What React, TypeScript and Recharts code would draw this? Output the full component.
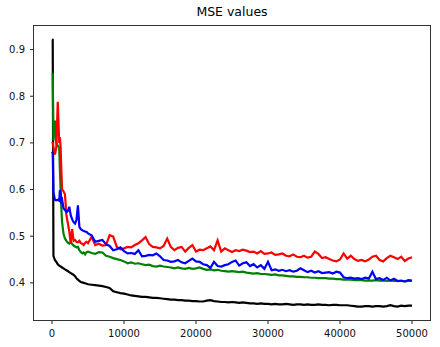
import { LineChart, Line, XAxis, YAxis } from 'recharts';

// training steps where the MSE was logged (dense at the start, then every 500)
const steps = [
  0, 100, 200, 400, 600, 800, 1000, 1100, 1200, 1300, 1400, 1600, 1800, 2000, 2200, 2400, 2600, 2800,
  3000, 3200, 3400, 3600, 3800, 4000, 4200, 4400, 4600, 4800, 5000,
  5500, 6000, 6500, 7000, 7500, 8000, 8500, 9000, 9500, 10000,
  10500, 11000, 11500, 12000, 12500, 13000, 13500, 14000, 14500, 15000,
  15500, 16000, 16500, 17000, 17500, 18000, 18500, 19000, 19500, 20000,
  20500, 21000, 21500, 22000, 22500, 23000, 23500, 24000, 24500, 25000,
  25500, 26000, 26500, 27000, 27500, 28000, 28500, 29000, 29500, 30000,
  30500, 31000, 31500, 32000, 32500, 33000, 33500, 34000, 34500, 35000,
  35500, 36000, 36500, 37000, 37500, 38000, 38500, 39000, 39500, 40000,
  40500, 41000, 41500, 42000, 42500, 43000, 43500, 44000, 44500, 45000,
  45500, 46000, 46500, 47000, 47500, 48000, 48500, 49000, 49500, 50000,
];

const blackMse = [
  0.922, 0.921, 0.458, 0.449, 0.445, 0.44, 0.437, 0.436, 0.435, 0.434, 0.433, 0.431, 0.429, 0.427, 0.425, 0.423, 0.421, 0.419,
  0.417, 0.414, 0.41, 0.407, 0.404, 0.402, 0.401, 0.4, 0.399, 0.398, 0.397,
  0.396, 0.395, 0.394, 0.393, 0.391, 0.389, 0.382, 0.38, 0.378, 0.377,
  0.375, 0.373, 0.372, 0.371, 0.37, 0.37, 0.369, 0.368, 0.368, 0.367,
  0.366, 0.365, 0.364, 0.364, 0.363, 0.363, 0.362, 0.362, 0.361, 0.361,
  0.36, 0.36, 0.362, 0.363, 0.361, 0.36, 0.359, 0.359, 0.358, 0.359,
  0.358, 0.357, 0.358, 0.357, 0.356, 0.356, 0.355, 0.356, 0.355, 0.355,
  0.354, 0.355, 0.354, 0.354, 0.355, 0.354, 0.353, 0.354, 0.354, 0.353,
  0.354, 0.353, 0.353, 0.354, 0.353, 0.353, 0.352, 0.353, 0.353, 0.352,
  0.352, 0.352, 0.351, 0.35, 0.349, 0.349, 0.35, 0.35, 0.349, 0.35,
  0.35, 0.349, 0.35, 0.352, 0.35, 0.349, 0.351, 0.35, 0.351, 0.351,
];

const greenMse = [
  0.85, 0.848, 0.705, 0.748, 0.7, 0.694, 0.69, 0.64, 0.6, 0.56, 0.53, 0.505, 0.495, 0.49, 0.486, 0.484, 0.487, 0.483,
  0.48, 0.478, 0.476, 0.477, 0.47, 0.466, 0.463, 0.465, 0.461, 0.466, 0.467,
  0.464, 0.462, 0.466, 0.465, 0.458, 0.456, 0.453, 0.451, 0.449, 0.446,
  0.442, 0.444, 0.441, 0.442, 0.44, 0.438, 0.439, 0.436, 0.435, 0.437,
  0.435, 0.434, 0.433, 0.431, 0.433, 0.431, 0.43, 0.432, 0.43, 0.431,
  0.433, 0.43, 0.428, 0.429, 0.427, 0.428, 0.426, 0.425, 0.424, 0.425,
  0.424, 0.423, 0.424, 0.422, 0.421, 0.42, 0.421, 0.419, 0.419, 0.418,
  0.417, 0.418, 0.416, 0.416, 0.415, 0.414, 0.414, 0.413, 0.413, 0.412,
  0.412, 0.411, 0.411, 0.41, 0.41, 0.41, 0.409, 0.409, 0.408, 0.408,
  0.407, 0.407, 0.407, 0.406, 0.406, 0.406, 0.405, 0.405, 0.405, 0.406,
  0.405, 0.405, 0.404, 0.405, 0.404, 0.404, 0.404, 0.403, 0.404, 0.404,
];

const redMse = [
  0.702, 0.7, 0.69, 0.675, 0.69, 0.788, 0.7, 0.712, 0.69, 0.64, 0.6, 0.596, 0.59, 0.545, 0.528, 0.51, 0.485, 0.515,
  0.49, 0.492, 0.488, 0.487, 0.49, 0.485, 0.484, 0.481, 0.486, 0.488, 0.485,
  0.499, 0.481, 0.484, 0.48, 0.481, 0.502, 0.499, 0.477, 0.472, 0.474,
  0.477, 0.476, 0.481, 0.485, 0.491, 0.498, 0.483, 0.477, 0.476, 0.474,
  0.479, 0.495, 0.477, 0.47, 0.475, 0.477, 0.467, 0.475, 0.481, 0.467,
  0.471, 0.47, 0.474, 0.478, 0.47, 0.491, 0.467, 0.474, 0.47, 0.466,
  0.47, 0.468, 0.471, 0.469, 0.466, 0.467, 0.463, 0.468, 0.462, 0.463,
  0.465, 0.46, 0.461, 0.463, 0.458, 0.457, 0.461, 0.456, 0.455, 0.458,
  0.454, 0.456, 0.467, 0.462, 0.453, 0.455, 0.451, 0.448, 0.446, 0.45,
  0.463, 0.452, 0.458, 0.451, 0.447, 0.449, 0.446, 0.45, 0.456, 0.458,
  0.449, 0.446, 0.453, 0.458, 0.455, 0.451, 0.456, 0.447, 0.452, 0.455,
];

const blueMse = [
  0.681, 0.678, 0.595, 0.578, 0.577, 0.578, 0.576, 0.599, 0.59, 0.575, 0.578, 0.56, 0.556, 0.552, 0.554, 0.563, 0.545, 0.536,
  0.53, 0.527, 0.535, 0.566, 0.52, 0.515, 0.513, 0.511, 0.51, 0.509, 0.506,
  0.502, 0.488, 0.49, 0.492, 0.483, 0.479, 0.47, 0.472, 0.476, 0.468,
  0.463, 0.464, 0.462, 0.47, 0.457, 0.458, 0.46, 0.459, 0.463, 0.457,
  0.449, 0.448, 0.445, 0.446, 0.449, 0.444, 0.442, 0.447, 0.452, 0.446,
  0.445, 0.44, 0.438, 0.432, 0.445, 0.436, 0.435, 0.438, 0.44, 0.445,
  0.448, 0.437, 0.442, 0.444, 0.436, 0.44, 0.433, 0.438, 0.43, 0.445,
  0.427, 0.429, 0.426, 0.428, 0.425, 0.427, 0.424, 0.426, 0.431, 0.427,
  0.423, 0.426, 0.422, 0.425, 0.421, 0.422, 0.423, 0.42, 0.424, 0.422,
  0.412, 0.41, 0.411, 0.409, 0.41, 0.408, 0.411, 0.409, 0.424, 0.408,
  0.41, 0.406, 0.411, 0.405, 0.409, 0.404, 0.405, 0.403, 0.406, 0.405,
];

const xTicks = [0, 10000, 20000, 30000, 40000, 50000];
const yTicks = [0.4, 0.5, 0.6, 0.7, 0.8, 0.9];

const rows = steps.map((step, i) => ({
  step,
  black: blackMse[i],
  green: greenMse[i],
  red: redMse[i],
  blue: blueMse[i],
}));

const tickStyle = { fill: '#111', fontSize: 10, fontFamily: 'DejaVu Sans' };

const App = () => (
  <div style={{ position: 'absolute', left: 0, top: 0, width: 440, height: 347, background: '#fff' }}>
    <div
      style={{
        position: 'absolute',
        left: 34,
        width: 396,
        top: 4,
        textAlign: 'center',
        fontFamily: 'DejaVu Sans',
        fontSize: 12.5,
        color: '#000',
      }}
    >
      MSE values
    </div>
    <LineChart width={440} height={347} data={rows} margin={{ top: 26, right: 10, left: 0, bottom: 0 }}>
      <XAxis
        dataKey="step"
        type="number"
        domain={[-2500, 52500]}
        ticks={xTicks}
        allowDataOverflow
        height={27}
        axisLine={false}
        tickSize={4}
        tickMargin={6}
        tickLine={{ stroke: '#222' }}
        tick={tickStyle}
      />
      <YAxis
        type="number"
        domain={[0.3204, 0.9505]}
        ticks={yTicks}
        allowDataOverflow
        width={34}
        axisLine={false}
        tickSize={4}
        tickMargin={5}
        tickLine={{ stroke: '#222' }}
        tick={tickStyle}
        tickFormatter={(v: number) => v.toFixed(1)}
      />
      <Line dataKey="black" stroke="#000000" strokeWidth={2.2} dot={false} isAnimationActive={false} />
      <Line dataKey="green" stroke="#008000" strokeWidth={2.2} dot={false} isAnimationActive={false} />
      <Line dataKey="red" stroke="#ff0000" strokeWidth={2.2} dot={false} isAnimationActive={false} />
      <Line dataKey="blue" stroke="#0000ff" strokeWidth={2.2} dot={false} isAnimationActive={false} />
    </LineChart>
    <div
      style={{
        position: 'absolute',
        left: 33,
        top: 25,
        width: 398,
        height: 296,
        boxSizing: 'border-box',
        border: '1px solid #333',
        pointerEvents: 'none',
      }}
    />
  </div>
);

export default App;
